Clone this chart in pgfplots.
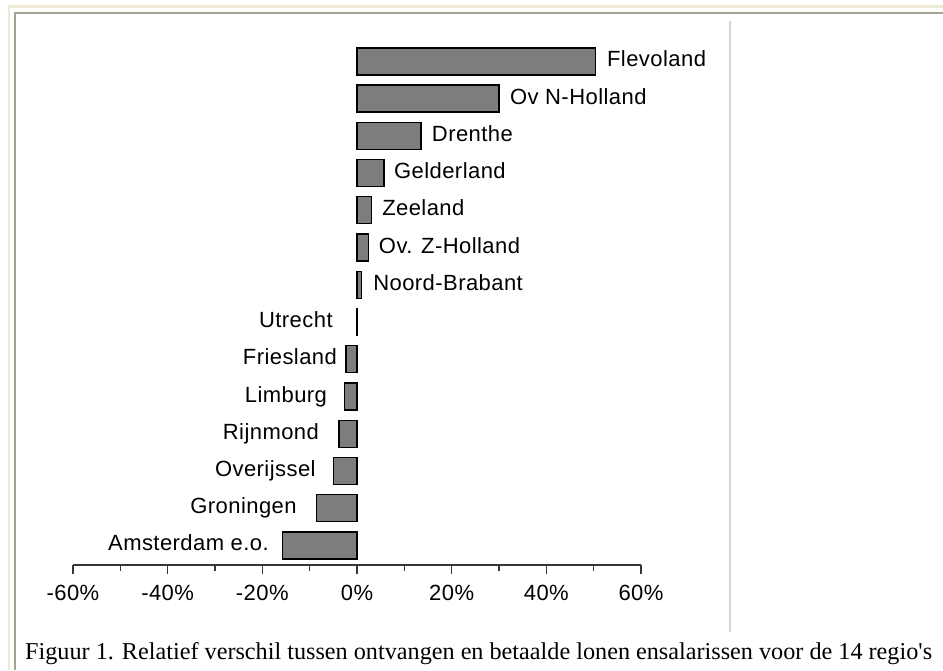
\documentclass[border=0pt]{standalone}
\usepackage{pgfplots}
\pgfplotsset{compat=1.18}
\usepackage{fontspec}
\setmainfont{Liberation Serif}[Ligatures=TeXOff]
\newfontfamily\arial{Liberation Sans}[LetterSpace=2]
\definecolor{barfill}{RGB}{125,125,125}
\definecolor{axisc}{RGB}{55,55,55}
\definecolor{frameouter}{RGB}{236,233,216}
\definecolor{frameinner}{RGB}{165,162,148}
\definecolor{sep}{RGB}{212,212,212}
\begin{document}
\begin{tikzpicture}[x=1pt,y=1pt]
\useasboundingbox (0,0) rectangle (943,670);
\fill[white] (0,0) rectangle (943,670);
% frame
\draw[frameouter,line width=2.5pt] (9,0) -- (9,663.5) -- (943,663.5);
\draw[frameinner,line width=2pt] (14.5,0) -- (14.5,657) -- (943,657);
% separator
\draw[sep,line width=1.5pt] (730,649) -- (730,38);
\begin{axis}[
  at={(73pt,105pt)}, anchor=south west,
  scale only axis, width=568pt, height=522.2pt,
  xmin=-60, xmax=60, ymin=-0.525, ymax=13.5,
  axis y line=none,
  axis x line*=bottom,
  x axis line style={-, draw=axisc, line width=1.8pt},
  xtick={-60,-40,-20,0,20,40,60},
  xticklabels={-60\%,-40\%,-20\%,0\%,20\%,40\%,60\%},
  minor xtick={-50,-30,-10,10,30,50},
  tick align=outside,
  major tick length=9pt, minor tick length=6pt,
  every tick/.style={draw=axisc, line width=1.6pt},
  xticklabel style={font=\arial\fontsize{22}{22}\selectfont, inner sep=0pt, anchor=north, yshift=-10.5pt},
  ytick=\empty,
  clip=false,
]
\addplot[xbar, bar width=27pt, fill=barfill, draw=black, line width=1.3pt]
coordinates {
(-15.8,0) (-8.5,1) (-4.9,2) (-3.8,3) (-2.7,4) (-2.3,5) (-0.1,6)
(1.0,7) (2.5,8) (3.1,9) (5.7,10) (13.5,11) (30.0,12) (50.4,13)
};
\begin{scope}[every node/.style={font=\arial\fontsize{22}{22}\selectfont, inner sep=0pt, yshift=-5.5pt}]
\node[anchor=base west] at (axis cs:52.8,13) {Flevoland};
\node[anchor=base west] at (axis cs:32.3,12) {Ov N-Holland};
\node[anchor=base west] at (axis cs:15.8,11) {Drenthe};
\node[anchor=base west] at (axis cs:7.8,10) {Gelderland};
\node[anchor=base west] at (axis cs:5.3,9) {Zeeland};
\node[anchor=base west] at (axis cs:4.6,8) {Ov. Z-Holland};
\node[anchor=base west] at (axis cs:3.4,7) {Noord-Brabant};
\node[anchor=base east] at (axis cs:-5.1,6) {Utrecht};
\node[anchor=base east] at (axis cs:-4.2,5) {Friesland};
\node[anchor=base east] at (axis cs:-6.3,4) {Limburg};
\node[anchor=base east] at (axis cs:-8.0,3) {Rijnmond};
\node[anchor=base east] at (axis cs:-8.7,2) {Overijssel};
\node[anchor=base east] at (axis cs:-12.7,1) {Groningen};
\node[anchor=base east] at (axis cs:-18.6,0) {Amsterdam e.o.};
\end{scope}
\end{axis}
\node[anchor=base west, inner sep=0pt, font=\fontsize{24.2}{24.2}\selectfont] at (25,11) {Figuur 1. Relatief verschil tussen ontvangen en betaalde lonen ensalarissen voor de 14 regio's};
\end{tikzpicture}
\end{document}
